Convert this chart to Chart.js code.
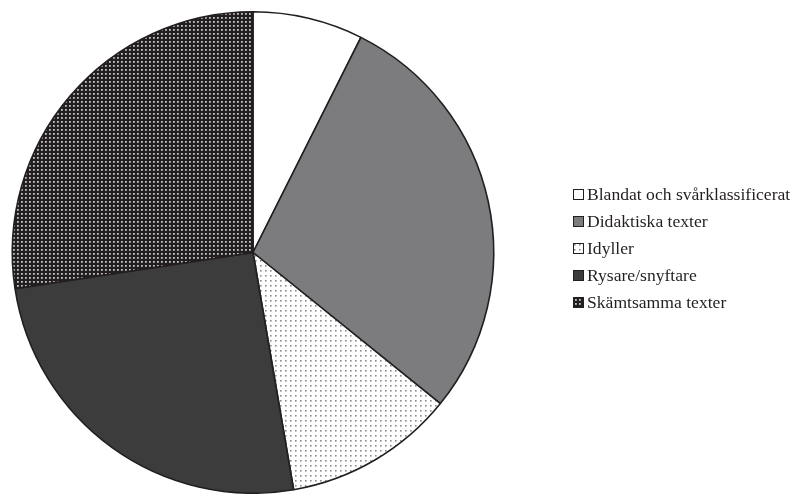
<!DOCTYPE html>
<html>
<head>
<meta charset="utf-8">
<script src="https://cdn.jsdelivr.net/npm/chart.js@4"></script>
<style>
  html, body { margin: 0; padding: 0; background: #fff; overflow: hidden; }
  #wrap { position: absolute; left: 0; top: 0; width: 797px; height: 494px; }
  #legend { position: absolute; left: 573px; top: 181px; font-family: "Liberation Serif", "DejaVu Serif", serif; font-size: 17.6px; color: #231f20; }
  .item { display: flex; align-items: center; height: 27px; white-space: nowrap; }
  .box { width: 9px; height: 9px; border: 1px solid #231f20; margin-right: 3px; flex: none; }
</style>
</head>
<body>
<div id="wrap"><canvas id="chart" width="797" height="494"></canvas></div>
<div id="legend"></div>
<script>
// Genres and their shares (percent), clockwise from twelve o'clock
const categories = [
  "Blandat och svårklassificerat",
  "Didaktiska texter",
  "Idyller",
  "Rysare/snyftare",
  "Skämtsamma texter"
];
const shares = [7.4, 28.4, 11.5, 25.3, 27.4];

// Dot screens used for two of the genres
function dotTile(size, bg, dot, dots, dotSize) {
  const c = document.createElement("canvas");
  c.width = size; c.height = size;
  const g = c.getContext("2d");
  g.fillStyle = bg; g.fillRect(0, 0, size, size);
  g.fillStyle = dot;
  dots.forEach(([x, y]) => g.fillRect(x, y, dotSize, dotSize));
  return c;
}
const ctx = document.getElementById("chart").getContext("2d");
const lightTile = dotTile(5, "#ffffff", "#8a8a8a", [[0, 0]], 1.6);
const darkTile = dotTile(4, "#231f20", "#c4c4c4", [[1, 1]], 1.8);
const lightDots = ctx.createPattern(lightTile, "repeat");
const darkDots = ctx.createPattern(darkTile, "repeat");

const fills = ["#ffffff", "#7c7c7f", lightDots, "#3c3c3c", darkDots];
const swatchCss = [
  "#ffffff", "#7c7c7f",
  "url(" + lightTile.toDataURL() + ")",
  "#3c3c3c",
  "url(" + darkTile.toDataURL() + ")"
];

new Chart(ctx, {
  type: "pie",
  data: {
    labels: categories,
    datasets: [{
      data: shares,
      backgroundColor: fills,
      borderColor: "#231f20",
      borderWidth: 1.6,
      hoverOffset: 0
    }]
  },
  options: {
    responsive: false,
    animation: false,
    layout: { padding: { left: 10, top: 11, right: 301, bottom: -4 } },
    plugins: { legend: { display: false }, tooltip: { enabled: false } }
  }
});

// Legend beside the pie
const legend = document.getElementById("legend");
categories.forEach((name, i) => {
  const row = document.createElement("div");
  row.className = "item";
  const box = document.createElement("span");
  box.className = "box";
  box.style.background = swatchCss[i];
  const txt = document.createElement("span");
  txt.textContent = name;
  row.appendChild(box);
  row.appendChild(txt);
  legend.appendChild(row);
});
</script>
</body>
</html>
